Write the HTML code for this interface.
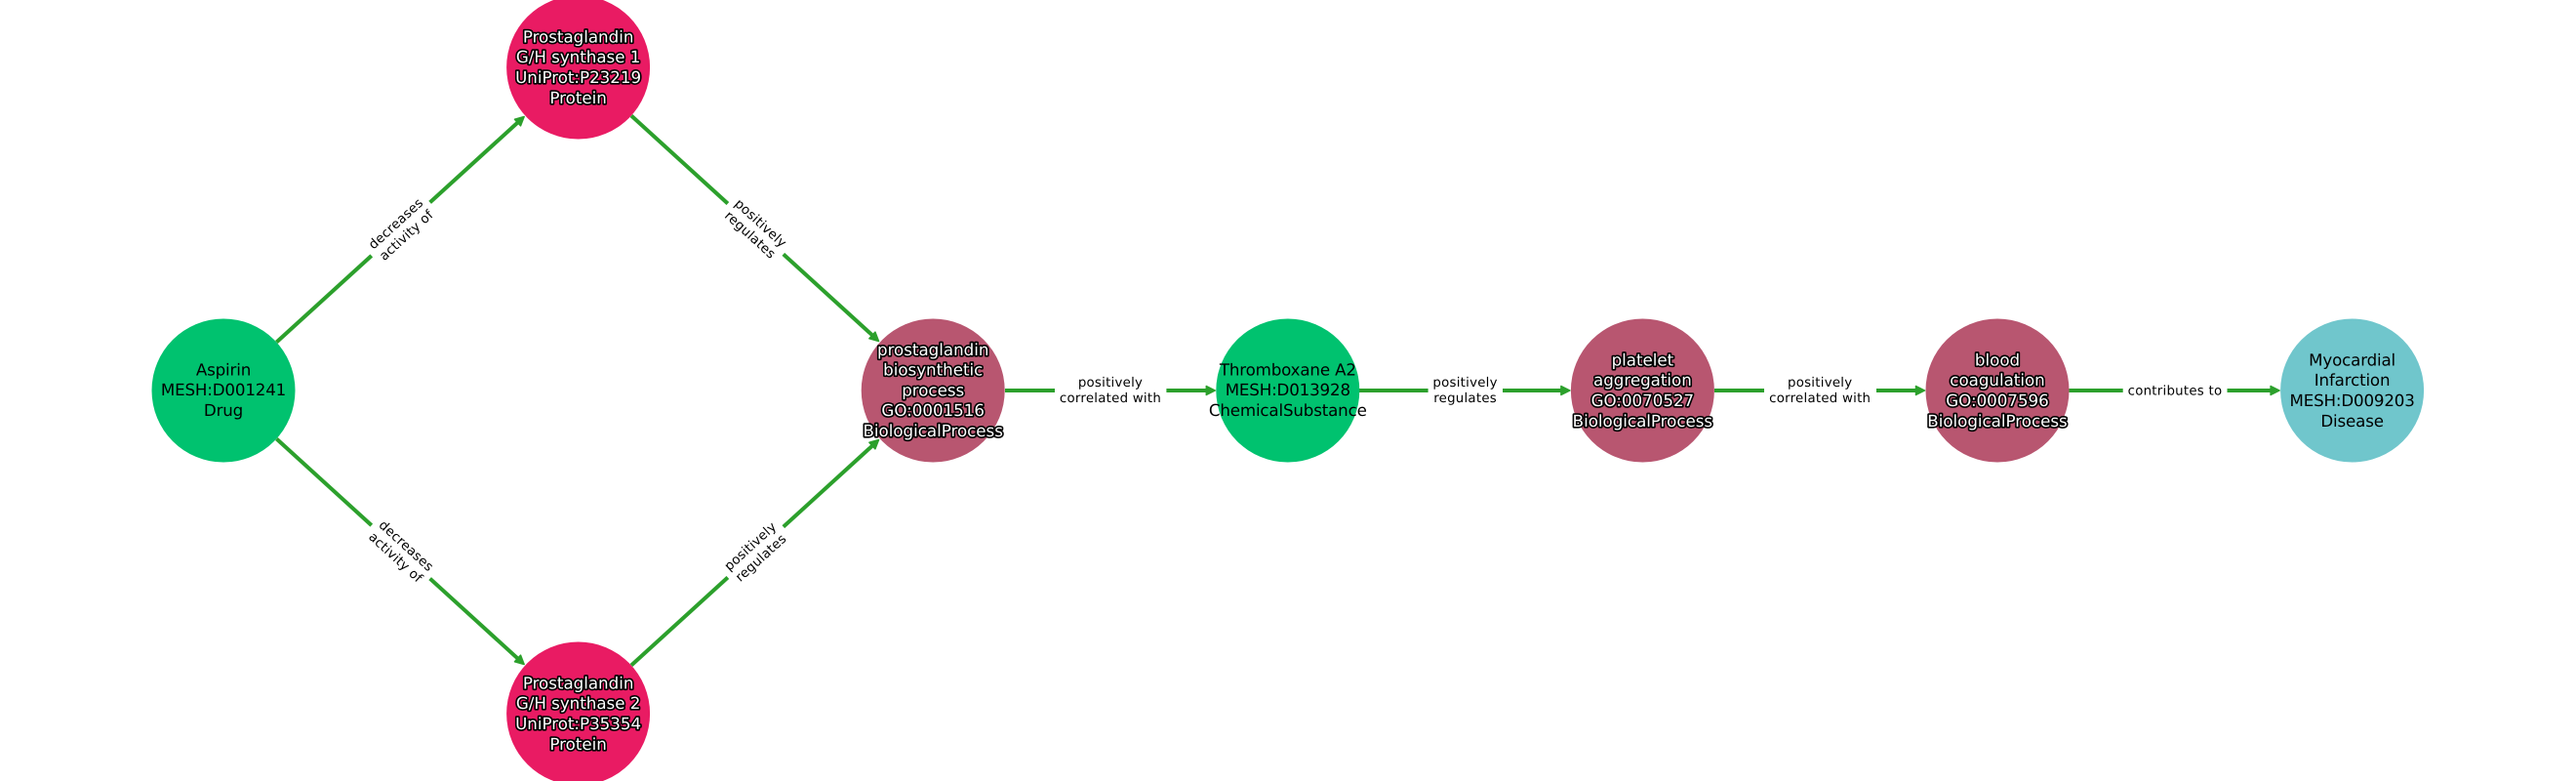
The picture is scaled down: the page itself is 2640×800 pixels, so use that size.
<!DOCTYPE html>
<html>
<head>
<meta charset="utf-8">
<title>Aspirin pathway diagram</title>
<style>
html,body{margin:0;padding:0;background:#fff;width:2640px;height:800px;overflow:hidden}
svg{display:block}
text{font-family:"DejaVu Sans","Liberation Sans",sans-serif;text-anchor:middle;text-rendering:geometricPrecision}
.n{font-size:16.67px;fill:#000;letter-spacing:-0.15px}
.w{font-size:16.67px;fill:#fff;stroke:#000;stroke-width:3.3px;paint-order:stroke fill;stroke-linejoin:round}
.e{font-size:13.33px;fill:#000;letter-spacing:0.25px}
.l{stroke:#2ca02c;stroke-width:4;fill:none}
.h{fill:#2ca02c;stroke:#2ca02c;stroke-width:1.5;stroke-linejoin:round}
</style>
</head>
<body>
<svg width="2640" height="800" viewBox="0 0 2640 800" xmlns="http://www.w3.org/2000/svg">
<rect width="2640" height="800" fill="#fff"/>

<!-- edges -->
<line class="l" x1="283.4" y1="350.5" x2="532" y2="124.2"/>
<line class="l" x1="283.4" y1="449.5" x2="532" y2="675.8"/>
<line class="l" x1="647" y1="118.5" x2="896" y2="345.2"/>
<line class="l" x1="647" y1="681.5" x2="896" y2="454.8"/>
<line class="l" x1="1030" y1="400" x2="1240" y2="400"/>
<line class="l" x1="1393" y1="400" x2="1603.5" y2="400"/>
<line class="l" x1="1757" y1="400" x2="1967" y2="400"/>
<line class="l" x1="2120.5" y1="400" x2="2331" y2="400"/>

<!-- arrowheads -->
<polygon class="h" points="-1,0 -10,-4.5 -10,4.5" transform="translate(537.9,118.8) rotate(-42.31)"/>
<polygon class="h" points="-1,0 -10,-4.5 -10,4.5" transform="translate(537.9,681.2) rotate(42.31)"/>
<polygon class="h" points="-1,0 -10,-4.5 -10,4.5" transform="translate(901.3,350.2) rotate(42.31)"/>
<polygon class="h" points="-1,0 -10,-4.5 -10,4.5" transform="translate(901.3,449.8) rotate(-42.31)"/>
<polygon class="h" points="-1,0 -10,-4.5 -10,4.5" transform="translate(1246.3,400)"/>
<polygon class="h" points="-1,0 -10,-4.5 -10,4.5" transform="translate(1609.9,400)"/>
<polygon class="h" points="-1,0 -10,-4.5 -10,4.5" transform="translate(1973.5,400)"/>
<polygon class="h" points="-1,0 -10,-4.5 -10,4.5" transform="translate(2337.1,400)"/>

<!-- nodes -->
<circle cx="229" cy="400" r="73.5" fill="#00c26f"/>
<circle cx="592.6" cy="69" r="73.5" fill="#e91b63"/>
<circle cx="592.6" cy="731" r="73.5" fill="#e91b63"/>
<circle cx="956.2" cy="400" r="73.5" fill="#b85670"/>
<circle cx="1319.8" cy="400" r="73.5" fill="#00c26f"/>
<circle cx="1683.4" cy="400" r="73.5" fill="#b85670"/>
<circle cx="2047" cy="400" r="73.5" fill="#b85670"/>
<circle cx="2410.6" cy="400" r="73.5" fill="#70c6cc"/>

<!-- edge labels -->
<g transform="translate(411,235) rotate(-42.31)">
<rect x="-40.5" y="-17" width="81" height="34" fill="#fff"/>
<text class="e" x="0" y="-3.5">decreases</text>
<text class="e" x="0" y="12.5">activity of</text>
</g>
<g transform="translate(411,565) rotate(42.31)">
<rect x="-40.5" y="-17" width="81" height="34" fill="#fff"/>
<text class="e" x="0" y="-3.5">decreases</text>
<text class="e" x="0" y="12.5">activity of</text>
</g>
<g transform="translate(774.3,234.5) rotate(42.31)">
<rect x="-38.5" y="-17" width="77" height="34" fill="#fff"/>
<text class="e" x="0" y="-3.5">positively</text>
<text class="e" x="0" y="12.5">regulates</text>
</g>
<g transform="translate(774.3,565.5) rotate(-42.31)">
<rect x="-38.5" y="-17" width="77" height="34" fill="#fff"/>
<text class="e" x="0" y="-3.5">positively</text>
<text class="e" x="0" y="12.5">regulates</text>
</g>

<rect x="1081" y="383" width="114.4" height="34" fill="#fff"/>
<text class="e" x="1138" y="396">positively</text>
<text class="e" x="1138" y="411.8">correlated with</text>

<rect x="1463.6" y="383" width="76.4" height="34" fill="#fff"/>
<text class="e" x="1501.6" y="396">positively</text>
<text class="e" x="1501.6" y="411.8">regulates</text>

<rect x="1808" y="383" width="115" height="34" fill="#fff"/>
<text class="e" x="1865.2" y="396">positively</text>
<text class="e" x="1865.2" y="411.8">correlated with</text>

<rect x="2175.7" y="390" width="106.8" height="20" fill="#fff"/>
<text class="e" x="2229" y="404.4">contributes to</text>

<!-- node labels -->
<text class="n" x="229" y="384.5">Aspirin</text>
<text class="n" x="229" y="405.2">MESH:D001241</text>
<text class="n" x="229" y="426">Drug</text>

<text class="w" x="592.6" y="43.5">Prostaglandin</text>
<text class="w" x="592.6" y="64.2">G/H synthase 1</text>
<text class="w" x="592.6" y="85">UniProt:P23219</text>
<text class="w" x="592.6" y="105.8">Protein</text>

<text class="w" x="592.6" y="705.5">Prostaglandin</text>
<text class="w" x="592.6" y="726.2">G/H synthase 2</text>
<text class="w" x="592.6" y="747">UniProt:P35354</text>
<text class="w" x="592.6" y="767.8">Protein</text>

<text class="w" x="956.2" y="364">prostaglandin</text>
<text class="w" x="956.2" y="384.7">biosynthetic</text>
<text class="w" x="956.2" y="405.3">process</text>
<text class="w" x="956.2" y="426">GO:0001516</text>
<text class="w" x="956.2" y="446.8">BiologicalProcess</text>

<text class="n" x="1319.8" y="384.5">Thromboxane A2</text>
<text class="n" x="1319.8" y="405.2">MESH:D013928</text>
<text class="n" x="1319.8" y="426">ChemicalSubstance</text>

<text class="w" x="1683.4" y="374.5">platelet</text>
<text class="w" x="1683.4" y="395.2">aggregation</text>
<text class="w" x="1683.4" y="416">GO:0070527</text>
<text class="w" x="1683.4" y="436.8">BiologicalProcess</text>

<text class="w" x="2047" y="374.5">blood</text>
<text class="w" x="2047" y="395.2">coagulation</text>
<text class="w" x="2047" y="416">GO:0007596</text>
<text class="w" x="2047" y="436.8">BiologicalProcess</text>

<text class="n" x="2410.6" y="374.5">Myocardial</text>
<text class="n" x="2410.6" y="395.2">Infarction</text>
<text class="n" x="2410.6" y="416">MESH:D009203</text>
<text class="n" x="2410.6" y="436.8">Disease</text>
</svg>
</body>
</html>
